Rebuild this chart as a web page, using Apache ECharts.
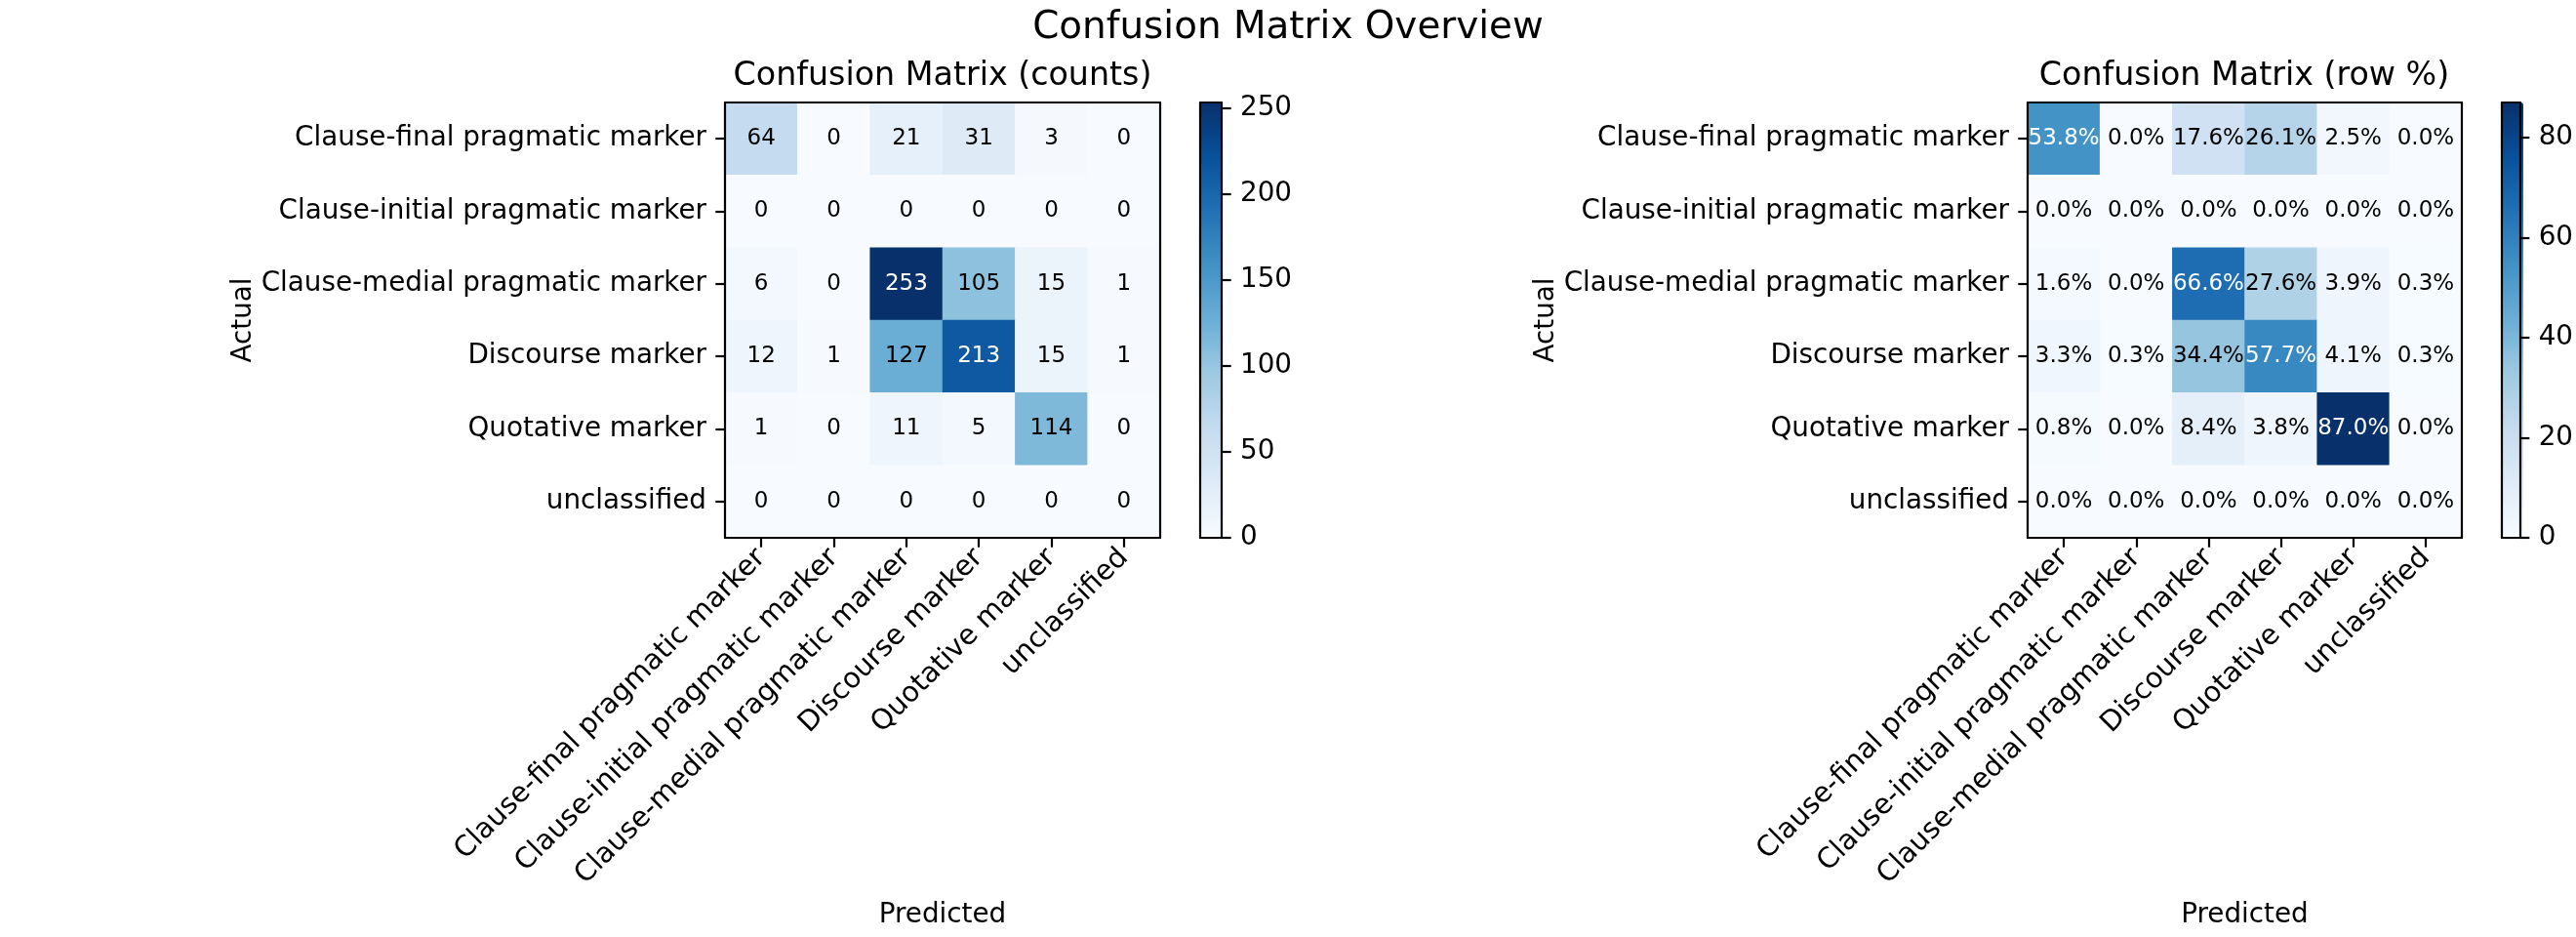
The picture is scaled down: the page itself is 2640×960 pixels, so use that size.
<!DOCTYPE html>
<html>
<head>
<meta charset="utf-8">
<script src="https://cdn.jsdelivr.net/npm/echarts@6/dist/echarts.min.js"></script>
<style>
html,body{margin:0;padding:0;background:#fff;}
#chart{width:2640px;height:960px;}
</style>
</head>
<body>
<div id="chart"></div>
<script>
// ---- data ----
const categories = ['Clause-final pragmatic marker', 'Clause-initial pragmatic marker', 'Clause-medial pragmatic marker', 'Discourse marker', 'Quotative marker', 'unclassified'];
const countsRow0 = [64, 0, 21, 31, 3, 0];
const countsRow1 = [0, 0, 0, 0, 0, 0];
const countsRow2 = [6, 0, 253, 105, 15, 1];
const countsRow3 = [12, 1, 127, 213, 15, 1];
const countsRow4 = [1, 0, 11, 5, 114, 0];
const countsRow5 = [0, 0, 0, 0, 0, 0];
const pctRow0 = [53.8, 0.0, 17.6, 26.1, 2.5, 0.0];
const pctRow1 = [0.0, 0.0, 0.0, 0.0, 0.0, 0.0];
const pctRow2 = [1.6, 0.0, 66.6, 27.6, 3.9, 0.3];
const pctRow3 = [3.3, 0.3, 34.4, 57.7, 4.1, 0.3];
const pctRow4 = [0.8, 0.0, 8.4, 3.8, 87.0, 0.0];
const pctRow5 = [0.0, 0.0, 0.0, 0.0, 0.0, 0.0];
const countsMax = 253;
const pctMax = 87.0;
const countsTicks = [0, 50, 100, 150, 200, 250];
const pctTicks = [0, 20, 40, 60, 80];

const countsRows = [countsRow0, countsRow1, countsRow2, countsRow3, countsRow4, countsRow5];
const pctRows = [pctRow0, pctRow1, pctRow2, pctRow3, pctRow4, pctRow5];

// ---- styles ----
const FONT = 'DejaVu Sans';
const TICK_FS = 27.8;
const XTICK_FS = 28.8;
const CELL_FS = 23;
const LW = 2.2;
const TICK_LEN = 9.7;
const blues = ['#f7fbff', '#deebf7', '#c6dbef', '#9ecae1', '#6baed6', '#4292c6', '#2171b5', '#08519c', '#08306b'];

function buildData(rows, max) {
  const out = [];
  rows.forEach((row, r) => {
    row.forEach((v, c) => {
      out.push({ value: [c, r, v], label: { color: v > max * 0.55 ? '#ffffff' : '#000000' } });
    });
  });
  return out;
}

const G = [
  { left: 743, top: 105, width: 446, height: 446 },
  { left: 2078, top: 105, width: 445, height: 446 },
  { left: 1230, top: 105, width: 22, height: 446 },
  { left: 2564, top: 105, width: 22, height: 446 }
];

const lineStyle = { color: '#000', width: LW };

function mainX(gi) {
  return [{
    type: 'category', gridIndex: gi, data: categories, position: 'bottom', z: 10,
    axisLine: { show: true, lineStyle: lineStyle },
    axisTick: { show: true, alignWithLabel: true, length: TICK_LEN, lineStyle: lineStyle },
    axisLabel: { rotate: 45, fontSize: XTICK_FS, fontFamily: FONT, color: '#000', margin: 16, interval: 0 },
    splitLine: { show: false },
    name: 'Predicted', nameLocation: 'middle', nameGap: 373,
    nameTextStyle: { fontSize: TICK_FS, fontFamily: FONT, color: '#000' }
  }, {
    type: 'category', gridIndex: gi, data: categories, position: 'top', z: 10,
    axisLine: { show: true, lineStyle: lineStyle },
    axisTick: { show: false }, axisLabel: { show: false }, splitLine: { show: false }
  }];
}
function mainY(gi) {
  return [{
    type: 'category', gridIndex: gi, data: categories, inverse: true, position: 'left', z: 10,
    axisLine: { show: true, lineStyle: lineStyle },
    axisTick: { show: true, alignWithLabel: true, length: TICK_LEN, lineStyle: lineStyle },
    axisLabel: { fontSize: TICK_FS, fontFamily: FONT, color: '#000', margin: 19, interval: 0 },
    splitLine: { show: false },
    name: 'Actual', nameLocation: 'middle', nameGap: 470, nameRotate: 90,
    nameTextStyle: { fontSize: TICK_FS, fontFamily: FONT, color: '#000' }
  }, {
    type: 'category', gridIndex: gi, data: categories, inverse: true, position: 'right', z: 10,
    axisLine: { show: true, lineStyle: lineStyle },
    axisTick: { show: false }, axisLabel: { show: false }, splitLine: { show: false }
  }];
}
function cbX(gi) {
  return [{
    type: 'value', gridIndex: gi, position: 'bottom', min: 0, max: 1, z: 10,
    axisLine: { show: true, onZero: false, lineStyle: lineStyle },
    axisTick: { show: false }, axisLabel: { show: false }, splitLine: { show: false }
  }, {
    type: 'value', gridIndex: gi, position: 'top', min: 0, max: 1, z: 10,
    axisLine: { show: true, onZero: false, lineStyle: lineStyle },
    axisTick: { show: false }, axisLabel: { show: false }, splitLine: { show: false }
  }];
}
function cbY(gi, max, ticks) {
  return [{
    type: 'value', gridIndex: gi, position: 'right', min: 0, max: max, z: 10,
    axisLine: { show: true, onZero: false, lineStyle: lineStyle },
    axisTick: { show: true, length: TICK_LEN, lineStyle: lineStyle, customValues: ticks },
    axisLabel: { fontSize: TICK_FS, fontFamily: FONT, color: '#000', margin: 19, customValues: ticks },
    splitLine: { show: false }
  }, {
    type: 'value', gridIndex: gi, position: 'left', min: 0, max: max, z: 10,
    axisLine: { show: true, onZero: false, lineStyle: lineStyle },
    axisTick: { show: false }, axisLabel: { show: false }, splitLine: { show: false }
  }];
}

const option = {
  backgroundColor: '#ffffff',
  animation: false,
  textStyle: { fontFamily: FONT },
  title: [
    { text: 'Confusion Matrix Overview', left: 'center', top: 9, padding: 0,
      textStyle: { fontSize: 38.9, fontWeight: 'normal', fontFamily: FONT, color: '#000' } },
    { text: 'Confusion Matrix (counts)', left: 966, textAlign: 'center', top: 62, padding: 0,
      textStyle: { fontSize: 33.3, fontWeight: 'normal', fontFamily: FONT, color: '#000' } },
    { text: 'Confusion Matrix (row %)', left: 2300, textAlign: 'center', top: 62, padding: 0,
      textStyle: { fontSize: 33.3, fontWeight: 'normal', fontFamily: FONT, color: '#000' } }
  ],
  grid: G.map(g => Object.assign({ containLabel: false, show: false }, g)),
  xAxis: [].concat(mainX(0), mainX(1), cbX(2), cbX(3)),
  yAxis: [].concat(mainY(0), mainY(1), cbY(2, countsMax, countsTicks), cbY(3, pctMax, pctTicks)),
  visualMap: [
    { type: 'continuous', seriesIndex: 0, min: 0, max: countsMax, calculable: false, hoverLink: false,
      left: G[2].left, top: G[2].top, itemWidth: G[2].width, itemHeight: G[2].height, padding: 0,
      text: null, showLabel: false, inRange: { color: blues } },
    { type: 'continuous', seriesIndex: 1, min: 0, max: pctMax, calculable: false, hoverLink: false,
      left: G[3].left, top: G[3].top, itemWidth: G[3].width, itemHeight: G[3].height, padding: 0,
      text: null, showLabel: false, inRange: { color: blues } }
  ],
  series: [
    { type: 'heatmap', xAxisIndex: 0, yAxisIndex: 0, data: buildData(countsRows, countsMax),
      label: { show: true, fontSize: CELL_FS, fontFamily: FONT, formatter: p => String(p.value[2]) },
      emphasis: { disabled: true } },
    { type: 'heatmap', xAxisIndex: 2, yAxisIndex: 2, data: buildData(pctRows, pctMax),
      label: { show: true, fontSize: CELL_FS, fontFamily: FONT, formatter: p => p.value[2].toFixed(1) + '%' },
      emphasis: { disabled: true } }
  ]
};

const chart = echarts.init(document.getElementById('chart'), null, { renderer: 'canvas' });
chart.setOption(option);
</script>
</body>
</html>
